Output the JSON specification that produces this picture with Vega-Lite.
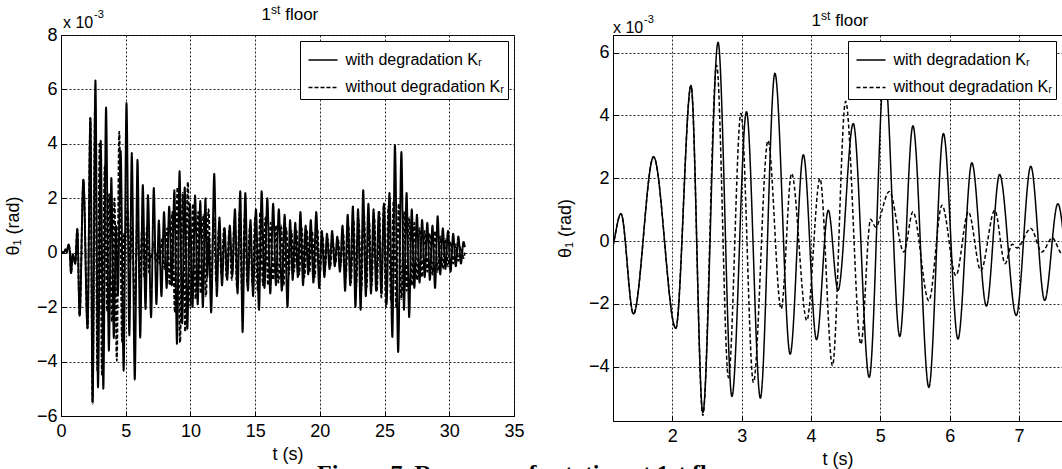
{
"$schema": "https://vega.github.io/schema/vega-lite/v6.json",
"background": "white",
"padding": {"left": 3, "top": 3, "right": 0, "bottom": 0},
"bounds": "flush",
"spacing": 99,
"datasets": {"d": [
{"t":0,"v":0.05,"s":"with"},{"t":0.2,"v":0.0,"s":"with"},{"t":0.35,"v":0.12,"s":"with"},{"t":0.45,"v":0.02,"s":"with"},{"t":0.58,"v":0.3,"s":"with"},{"t":0.66,"v":0.15,"s":"with"},{"t":0.78,"v":-0.75,"s":"with"},{"t":0.9,"v":-0.05,"s":"with"},{"t":1.1,"v":-0.4,"s":"with"},{"t":1.26,"v":0.87,"s":"with"},{"t":1.44,"v":-2.32,"s":"with"},{"t":1.73,"v":2.68,"s":"with"},{"t":2.05,"v":-2.78,"s":"with"},{"t":2.27,"v":4.95,"s":"with"},{"t":2.44,"v":-5.46,"s":"with"},{"t":2.66,"v":6.33,"s":"with"},{"t":2.86,"v":-4.95,"s":"with"},{"t":3.07,"v":4.12,"s":"with"},{"t":3.27,"v":-5.0,"s":"with"},{"t":3.48,"v":5.34,"s":"with"},{"t":3.7,"v":-3.6,"s":"with"},{"t":3.89,"v":2.75,"s":"with"},{"t":4.08,"v":-3.14,"s":"with"},{"t":4.25,"v":0.98,"s":"with"},{"t":4.39,"v":-1.57,"s":"with"},{"t":4.61,"v":3.74,"s":"with"},{"t":4.84,"v":-4.34,"s":"with"},{"t":5.06,"v":5.5,"s":"with"},{"t":5.28,"v":-3.04,"s":"with"},{"t":5.47,"v":3.67,"s":"with"},{"t":5.7,"v":-4.66,"s":"with"},{"t":5.91,"v":3.42,"s":"with"},{"t":6.12,"v":-3.12,"s":"with"},{"t":6.32,"v":2.49,"s":"with"},{"t":6.53,"v":-2.07,"s":"with"},{"t":6.72,"v":2.12,"s":"with"},{"t":6.96,"v":-2.37,"s":"with"},{"t":7.17,"v":2.38,"s":"with"},{"t":7.37,"v":-1.89,"s":"with"},{"t":7.56,"v":1.19,"s":"with"},{"t":7.76,"v":-1.6,"s":"with"},{"t":7.96,"v":1.5,"s":"with"},{"t":8.16,"v":-1.3,"s":"with"},{"t":8.36,"v":1.7,"s":"with"},{"t":8.56,"v":-1.2,"s":"with"},{"t":8.76,"v":2.3,"s":"with"},{"t":8.96,"v":-3.35,"s":"with"},{"t":9.16,"v":3.0,"s":"with"},{"t":9.36,"v":-2.6,"s":"with"},{"t":9.56,"v":2.4,"s":"with"},{"t":9.76,"v":-2.8,"s":"with"},{"t":9.96,"v":1.8,"s":"with"},{"t":10.16,"v":-2.0,"s":"with"},{"t":10.36,"v":2.1,"s":"with"},{"t":10.56,"v":-1.9,"s":"with"},{"t":10.76,"v":1.9,"s":"with"},{"t":10.96,"v":-2.0,"s":"with"},{"t":11.16,"v":2.0,"s":"with"},{"t":11.3,"v":-0.9,"s":"with"},{"t":11.42,"v":0.6,"s":"with"},{"t":11.6,"v":-2.2,"s":"with"},{"t":11.84,"v":2.9,"s":"with"},{"t":12.04,"v":-1.6,"s":"with"},{"t":12.24,"v":1.3,"s":"with"},{"t":12.44,"v":-1.2,"s":"with"},{"t":12.64,"v":0.9,"s":"with"},{"t":12.84,"v":-1.0,"s":"with"},{"t":13.04,"v":1.0,"s":"with"},{"t":13.24,"v":-0.8,"s":"with"},{"t":13.44,"v":1.6,"s":"with"},{"t":13.64,"v":-1.5,"s":"with"},{"t":13.85,"v":2.26,"s":"with"},{"t":14.03,"v":-2.92,"s":"with"},{"t":14.24,"v":2.2,"s":"with"},{"t":14.44,"v":-1.4,"s":"with"},{"t":14.64,"v":1.2,"s":"with"},{"t":14.84,"v":-1.6,"s":"with"},{"t":15.06,"v":1.6,"s":"with"},{"t":15.3,"v":-2.1,"s":"with"},{"t":15.5,"v":2.26,"s":"with"},{"t":15.72,"v":-1.3,"s":"with"},{"t":15.94,"v":2.0,"s":"with"},{"t":16.17,"v":-1.5,"s":"with"},{"t":16.39,"v":1.8,"s":"with"},{"t":16.61,"v":-1.2,"s":"with"},{"t":16.83,"v":1.6,"s":"with"},{"t":17.06,"v":-1.4,"s":"with"},{"t":17.28,"v":1.4,"s":"with"},{"t":17.5,"v":-2.0,"s":"with"},{"t":17.7,"v":1.2,"s":"with"},{"t":17.9,"v":-1.0,"s":"with"},{"t":18.1,"v":1.1,"s":"with"},{"t":18.3,"v":-0.9,"s":"with"},{"t":18.5,"v":1.5,"s":"with"},{"t":18.7,"v":-1.2,"s":"with"},{"t":18.9,"v":1.0,"s":"with"},{"t":19.1,"v":-0.8,"s":"with"},{"t":19.3,"v":1.2,"s":"with"},{"t":19.5,"v":-1.1,"s":"with"},{"t":19.72,"v":1.5,"s":"with"},{"t":19.95,"v":-1.3,"s":"with"},{"t":20.15,"v":0.8,"s":"with"},{"t":20.35,"v":-0.9,"s":"with"},{"t":20.55,"v":0.7,"s":"with"},{"t":20.75,"v":-0.6,"s":"with"},{"t":20.95,"v":0.8,"s":"with"},{"t":21.15,"v":-0.5,"s":"with"},{"t":21.35,"v":0.6,"s":"with"},{"t":21.55,"v":-0.7,"s":"with"},{"t":21.75,"v":1.0,"s":"with"},{"t":21.95,"v":-1.4,"s":"with"},{"t":22.15,"v":1.4,"s":"with"},{"t":22.35,"v":-1.2,"s":"with"},{"t":22.55,"v":1.7,"s":"with"},{"t":22.75,"v":-2.0,"s":"with"},{"t":22.95,"v":1.6,"s":"with"},{"t":23.15,"v":-2.1,"s":"with"},{"t":23.35,"v":2.3,"s":"with"},{"t":23.55,"v":-1.6,"s":"with"},{"t":23.75,"v":1.8,"s":"with"},{"t":23.95,"v":-1.5,"s":"with"},{"t":24.15,"v":1.6,"s":"with"},{"t":24.35,"v":-1.4,"s":"with"},{"t":24.55,"v":1.5,"s":"with"},{"t":24.75,"v":-1.5,"s":"with"},{"t":24.95,"v":1.8,"s":"with"},{"t":25.15,"v":-1.9,"s":"with"},{"t":25.38,"v":2.2,"s":"with"},{"t":25.6,"v":-3.1,"s":"with"},{"t":25.8,"v":3.95,"s":"with"},{"t":26.05,"v":-3.65,"s":"with"},{"t":26.3,"v":3.7,"s":"with"},{"t":26.5,"v":-2.1,"s":"with"},{"t":26.7,"v":2.2,"s":"with"},{"t":26.9,"v":-2.37,"s":"with"},{"t":27.1,"v":1.6,"s":"with"},{"t":27.3,"v":-1.3,"s":"with"},{"t":27.5,"v":1.4,"s":"with"},{"t":27.7,"v":-1.1,"s":"with"},{"t":27.9,"v":1.2,"s":"with"},{"t":28.1,"v":-0.9,"s":"with"},{"t":28.3,"v":1.1,"s":"with"},{"t":28.5,"v":-1.0,"s":"with"},{"t":28.7,"v":1.0,"s":"with"},{"t":28.9,"v":-1.3,"s":"with"},{"t":29.1,"v":1.34,"s":"with"},{"t":29.3,"v":-0.8,"s":"with"},{"t":29.5,"v":0.9,"s":"with"},{"t":29.7,"v":-0.6,"s":"with"},{"t":29.9,"v":0.8,"s":"with"},{"t":30.1,"v":-0.7,"s":"with"},{"t":30.3,"v":0.7,"s":"with"},{"t":30.5,"v":-0.5,"s":"with"},{"t":30.7,"v":0.6,"s":"with"},{"t":30.9,"v":-0.4,"s":"with"},{"t":31.1,"v":0.4,"s":"with"},{"t":31.2,"v":0.2,"s":"with"},
{"t":0,"v":0.05,"s":"without"},{"t":0.2,"v":0.0,"s":"without"},{"t":0.35,"v":0.12,"s":"without"},{"t":0.45,"v":0.02,"s":"without"},{"t":0.58,"v":0.3,"s":"without"},{"t":0.66,"v":0.15,"s":"without"},{"t":0.78,"v":-0.75,"s":"without"},{"t":0.9,"v":-0.05,"s":"without"},{"t":1.1,"v":-0.4,"s":"without"},{"t":1.26,"v":0.87,"s":"without"},{"t":1.44,"v":-2.32,"s":"without"},{"t":1.73,"v":2.68,"s":"without"},{"t":2.05,"v":-2.78,"s":"without"},{"t":2.27,"v":4.95,"s":"without"},{"t":2.44,"v":-5.55,"s":"without"},{"t":2.64,"v":5.6,"s":"without"},{"t":2.81,"v":-4.35,"s":"without"},{"t":2.99,"v":4.06,"s":"without"},{"t":3.17,"v":-4.5,"s":"without"},{"t":3.38,"v":3.2,"s":"without"},{"t":3.57,"v":-2.16,"s":"without"},{"t":3.72,"v":2.15,"s":"without"},{"t":3.94,"v":-2.53,"s":"without"},{"t":4.13,"v":1.99,"s":"without"},{"t":4.31,"v":-3.97,"s":"without"},{"t":4.5,"v":4.45,"s":"without"},{"t":4.72,"v":-3.28,"s":"without"},{"t":4.86,"v":0.69,"s":"without"},{"t":4.93,"v":0.45,"s":"without"},{"t":5.13,"v":1.58,"s":"without"},{"t":5.34,"v":-0.35,"s":"without"},{"t":5.47,"v":0.93,"s":"without"},{"t":5.7,"v":-1.9,"s":"without"},{"t":5.89,"v":1.14,"s":"without"},{"t":6.09,"v":-1.1,"s":"without"},{"t":6.27,"v":0.93,"s":"without"},{"t":6.45,"v":-0.94,"s":"without"},{"t":6.65,"v":0.98,"s":"without"},{"t":6.8,"v":-0.72,"s":"without"},{"t":6.9,"v":-0.1,"s":"without"},{"t":6.97,"v":-0.22,"s":"without"},{"t":7.17,"v":0.4,"s":"without"},{"t":7.33,"v":-0.35,"s":"without"},{"t":7.48,"v":0.1,"s":"without"},{"t":7.62,"v":-0.4,"s":"without"},{"t":7.8,"v":0.5,"s":"without"},{"t":8.0,"v":-0.6,"s":"without"},{"t":8.2,"v":0.9,"s":"without"},{"t":8.4,"v":-1.2,"s":"without"},{"t":8.6,"v":1.5,"s":"without"},{"t":8.8,"v":-2.2,"s":"without"},{"t":9.0,"v":2.4,"s":"without"},{"t":9.2,"v":-3.3,"s":"without"},{"t":9.4,"v":2.2,"s":"without"},{"t":9.6,"v":-2.9,"s":"without"},{"t":9.8,"v":2.6,"s":"without"},{"t":10.0,"v":-2.0,"s":"without"},{"t":10.2,"v":1.8,"s":"without"},{"t":10.4,"v":-1.7,"s":"without"},{"t":10.6,"v":1.5,"s":"without"},{"t":10.8,"v":-1.5,"s":"without"},{"t":11.0,"v":1.4,"s":"without"},{"t":11.2,"v":-1.6,"s":"without"},{"t":11.4,"v":1.6,"s":"without"},{"t":11.6,"v":-1.4,"s":"without"},{"t":11.8,"v":1.3,"s":"without"},{"t":12.0,"v":-1.1,"s":"without"},{"t":12.2,"v":0.9,"s":"without"},{"t":12.4,"v":-0.8,"s":"without"},{"t":12.6,"v":0.9,"s":"without"},{"t":12.8,"v":-0.9,"s":"without"},{"t":13.0,"v":0.8,"s":"without"},{"t":13.2,"v":-1.0,"s":"without"},{"t":13.4,"v":1.2,"s":"without"},{"t":13.6,"v":-1.3,"s":"without"},{"t":13.8,"v":1.5,"s":"without"},{"t":14.0,"v":-1.6,"s":"without"},{"t":14.2,"v":1.4,"s":"without"},{"t":14.4,"v":-1.2,"s":"without"},{"t":14.6,"v":1.0,"s":"without"},{"t":14.8,"v":-1.2,"s":"without"},{"t":15.0,"v":1.3,"s":"without"},{"t":15.2,"v":-1.4,"s":"without"},{"t":15.4,"v":1.5,"s":"without"},{"t":15.6,"v":-1.2,"s":"without"},{"t":15.8,"v":1.3,"s":"without"},{"t":16.0,"v":-1.2,"s":"without"},{"t":16.2,"v":1.1,"s":"without"},{"t":16.4,"v":-1.0,"s":"without"},{"t":16.6,"v":1.0,"s":"without"},{"t":16.8,"v":-1.1,"s":"without"},{"t":17.0,"v":1.0,"s":"without"},{"t":17.2,"v":-1.2,"s":"without"},{"t":17.4,"v":0.9,"s":"without"},{"t":17.6,"v":-0.8,"s":"without"},{"t":17.8,"v":0.8,"s":"without"},{"t":18.0,"v":-0.7,"s":"without"},{"t":18.2,"v":0.8,"s":"without"},{"t":18.4,"v":-0.8,"s":"without"},{"t":18.6,"v":0.9,"s":"without"},{"t":18.8,"v":-0.9,"s":"without"},{"t":19.0,"v":0.8,"s":"without"},{"t":19.2,"v":-0.7,"s":"without"},{"t":19.4,"v":0.8,"s":"without"},{"t":19.6,"v":-0.9,"s":"without"},{"t":19.8,"v":0.9,"s":"without"},{"t":20.0,"v":-0.8,"s":"without"},{"t":20.2,"v":0.6,"s":"without"},{"t":20.4,"v":-0.5,"s":"without"},{"t":20.6,"v":0.5,"s":"without"},{"t":20.8,"v":-0.5,"s":"without"},{"t":21.0,"v":0.4,"s":"without"},{"t":21.2,"v":-0.4,"s":"without"},{"t":21.4,"v":0.5,"s":"without"},{"t":21.6,"v":-0.5,"s":"without"},{"t":21.8,"v":0.7,"s":"without"},{"t":22.0,"v":-0.9,"s":"without"},{"t":22.2,"v":1.0,"s":"without"},{"t":22.4,"v":-1.1,"s":"without"},{"t":22.6,"v":1.2,"s":"without"},{"t":22.8,"v":-1.3,"s":"without"},{"t":23.0,"v":1.2,"s":"without"},{"t":23.2,"v":-1.4,"s":"without"},{"t":23.4,"v":1.5,"s":"without"},{"t":23.6,"v":-1.3,"s":"without"},{"t":23.8,"v":1.2,"s":"without"},{"t":24.0,"v":-1.2,"s":"without"},{"t":24.2,"v":1.3,"s":"without"},{"t":24.4,"v":-1.4,"s":"without"},{"t":24.6,"v":1.5,"s":"without"},{"t":24.75,"v":-1.65,"s":"without"},{"t":24.95,"v":1.8,"s":"without"},{"t":25.1,"v":-2.0,"s":"without"},{"t":25.3,"v":1.7,"s":"without"},{"t":25.5,"v":-1.8,"s":"without"},{"t":25.7,"v":1.9,"s":"without"},{"t":25.9,"v":-2.0,"s":"without"},{"t":26.1,"v":1.8,"s":"without"},{"t":26.3,"v":-1.7,"s":"without"},{"t":26.5,"v":1.5,"s":"without"},{"t":26.7,"v":-1.4,"s":"without"},{"t":26.9,"v":1.3,"s":"without"},{"t":27.1,"v":-1.2,"s":"without"},{"t":27.3,"v":1.1,"s":"without"},{"t":27.5,"v":-1.0,"s":"without"},{"t":27.7,"v":0.9,"s":"without"},{"t":27.9,"v":-0.9,"s":"without"},{"t":28.1,"v":0.8,"s":"without"},{"t":28.3,"v":-0.7,"s":"without"},{"t":28.5,"v":0.7,"s":"without"},{"t":28.7,"v":-0.8,"s":"without"},{"t":28.9,"v":0.8,"s":"without"},{"t":29.1,"v":-0.7,"s":"without"},{"t":29.3,"v":0.6,"s":"without"},{"t":29.5,"v":-0.6,"s":"without"},{"t":29.7,"v":0.5,"s":"without"},{"t":29.9,"v":-0.5,"s":"without"},{"t":30.1,"v":0.4,"s":"without"},{"t":30.3,"v":-0.4,"s":"without"},{"t":30.5,"v":0.3,"s":"without"},{"t":30.7,"v":-0.3,"s":"without"},{"t":30.9,"v":0.2,"s":"without"},{"t":31.1,"v":-0.2,"s":"without"},{"t":31.2,"v":0.0,"s":"without"}
]},
"config": {
  "font": "Liberation Sans",
  "view": {"stroke": "black", "strokeWidth": 1},
  "axis": {"domainColor": "black", "domainWidth": 1, "tickColor": "black", "tickSize": -5, "labelPadding": 9, "labelColor": "black", "titleColor": "black", "labelFontSize": 18, "titleFontSize": 18, "titleFontWeight": "normal", "labelFont": "Liberation Sans", "titleFont": "Liberation Sans", "gridColor": "#222", "gridDash": [2, 2], "gridOpacity": 1, "gridWidth": 1, "labelFlush": false, "labelOverlap": false, "labelBound": false, "format": "d"},
  "axisY": {"titlePadding": 14},
  "axisX": {"titlePadding": 5, "labelPadding": 11},
  "text": {"font": "Liberation Sans", "color": "black"},
  "legend": {"orient": "top-right", "offset": 6, "padding": 3.5, "symbolOffset": 4, "strokeColor": "black", "fillColor": "white", "symbolType": "stroke", "symbolSize": 841, "symbolStrokeColor": "black", "symbolStrokeWidth": 1.5, "labelFontSize": 16, "labelFont": "Liberation Sans", "labelColor": "black", "rowPadding": 3.4, "labelOffset": 7, "cornerRadius": 0, "labelLimit": 400}
},
"title": {"text": "Figure 7. Response of rotation at 1st floor", "orient": "bottom", "font": "Liberation Serif", "fontSize": 24, "fontWeight": "bold", "color": "black", "offset": -7, "anchor": "start", "dx": 313},
"resolve": {"scale": {"strokeDash": "independent"}, "legend": {"strokeDash": "independent"}},
"hconcat": [
 {
  "width": 453, "height": 381,
  "layer": [
   {"data": {"name": "d"},
    "mark": {"type": "line", "interpolate": "monotone", "clip": true, "strokeWidth": 1.9, "color": "black"},
    "encoding": {
      "x": {"field": "t", "type": "quantitative", "scale": {"domain": [0, 35], "nice": false, "zero": false}, "axis": {"values": [0, 5, 10, 15, 20, 25, 30, 35], "title": "t (s)", "grid": true}},
      "y": {"field": "v", "type": "quantitative", "scale": {"domain": [-6, 8], "nice": false, "zero": false}, "axis": {"values": [-6, -4, -2, 0, 2, 4, 6, 8], "title": "θ₁ (rad)", "grid": true}},
      "strokeDash": {"field": "s", "type": "nominal", "scale": {"domain": ["with", "without"], "range": [[1, 0], [4, 2]]}, "legend": {"title": null, "labelExpr": "datum.label == 'with' ? 'with degradation Kᵣ' : 'without degradation Kᵣ'"}}
    }},
   {"data": {"values": [{}]},
    "mark": {"type": "text", "text": "1", "align": "left", "baseline": "alphabetic", "dx": -26, "dy": -15, "fontSize": 17},
    "encoding": {"x": {"datum": 17.5, "type": "quantitative"}, "y": {"datum": 8, "type": "quantitative"}}},
   {"data": {"values": [{}]},
    "mark": {"type": "text", "text": "st", "align": "left", "baseline": "alphabetic", "dx": -16.5, "dy": -21, "fontSize": 12},
    "encoding": {"x": {"datum": 17.5, "type": "quantitative"}, "y": {"datum": 8, "type": "quantitative"}}},
   {"data": {"values": [{}]},
    "mark": {"type": "text", "text": "floor", "align": "left", "baseline": "alphabetic", "dx": -2.3, "dy": -15, "fontSize": 17},
    "encoding": {"x": {"datum": 17.5, "type": "quantitative"}, "y": {"datum": 8, "type": "quantitative"}}},
   {"data": {"values": [{}]},
    "mark": {"type": "text", "text": "x 10", "align": "left", "baseline": "alphabetic", "dx": 2, "dy": -7, "fontSize": 16},
    "encoding": {"x": {"datum": 0, "type": "quantitative"}, "y": {"datum": 8, "type": "quantitative"}}},
   {"data": {"values": [{}]},
    "mark": {"type": "text", "text": "-3", "align": "left", "baseline": "alphabetic", "dx": 33, "dy": -17, "fontSize": 11},
    "encoding": {"x": {"datum": 0, "type": "quantitative"}, "y": {"datum": 8, "type": "quantitative"}}}
  ]
 },
 {
  "width": 449, "height": 386,
  "layer": [
   {"data": {"name": "d"},
    "transform": [{"filter": "datum.t >= 0.9 && datum.t <= 8.0"}],
    "mark": {"type": "line", "interpolate": "monotone", "clip": true, "strokeWidth": 1.5, "color": "black"},
    "encoding": {
      "x": {"field": "t", "type": "quantitative", "scale": {"domain": [1.145, 7.62], "nice": false, "zero": false}, "axis": {"values": [2, 3, 4, 5, 6, 7], "title": "t (s)", "grid": true}},
      "y": {"field": "v", "type": "quantitative", "scale": {"domain": [-5.73, 6.56], "nice": false, "zero": false}, "axis": {"values": [-4, -2, 0, 2, 4, 6], "title": "θ₁ (rad)", "grid": true}},
      "strokeDash": {"field": "s", "type": "nominal", "scale": {"domain": ["with", "without"], "range": [[1, 0], [4, 2.5]]}, "legend": {"title": null, "labelExpr": "datum.label == 'with' ? 'with degradation Kᵣ' : 'without degradation Kᵣ'"}}
    }},
   {"data": {"values": [{}]},
    "mark": {"type": "text", "text": "1", "align": "left", "baseline": "alphabetic", "dx": -26, "dy": -9, "fontSize": 17},
    "encoding": {"x": {"datum": 4.3825, "type": "quantitative"}, "y": {"datum": 6.56, "type": "quantitative"}}},
   {"data": {"values": [{}]},
    "mark": {"type": "text", "text": "st", "align": "left", "baseline": "alphabetic", "dx": -16.5, "dy": -15, "fontSize": 12},
    "encoding": {"x": {"datum": 4.3825, "type": "quantitative"}, "y": {"datum": 6.56, "type": "quantitative"}}},
   {"data": {"values": [{}]},
    "mark": {"type": "text", "text": "floor", "align": "left", "baseline": "alphabetic", "dx": -2.3, "dy": -9, "fontSize": 17},
    "encoding": {"x": {"datum": 4.3825, "type": "quantitative"}, "y": {"datum": 6.56, "type": "quantitative"}}},
   {"data": {"values": [{}]},
    "mark": {"type": "text", "text": "x 10", "align": "left", "baseline": "alphabetic", "dx": 0, "dy": -2, "fontSize": 16},
    "encoding": {"x": {"datum": 1.145, "type": "quantitative"}, "y": {"datum": 6.56, "type": "quantitative"}}},
   {"data": {"values": [{}]},
    "mark": {"type": "text", "text": "-3", "align": "left", "baseline": "alphabetic", "dx": 31, "dy": -12, "fontSize": 11},
    "encoding": {"x": {"datum": 1.145, "type": "quantitative"}, "y": {"datum": 6.56, "type": "quantitative"}}}
  ]
 }
]
}
